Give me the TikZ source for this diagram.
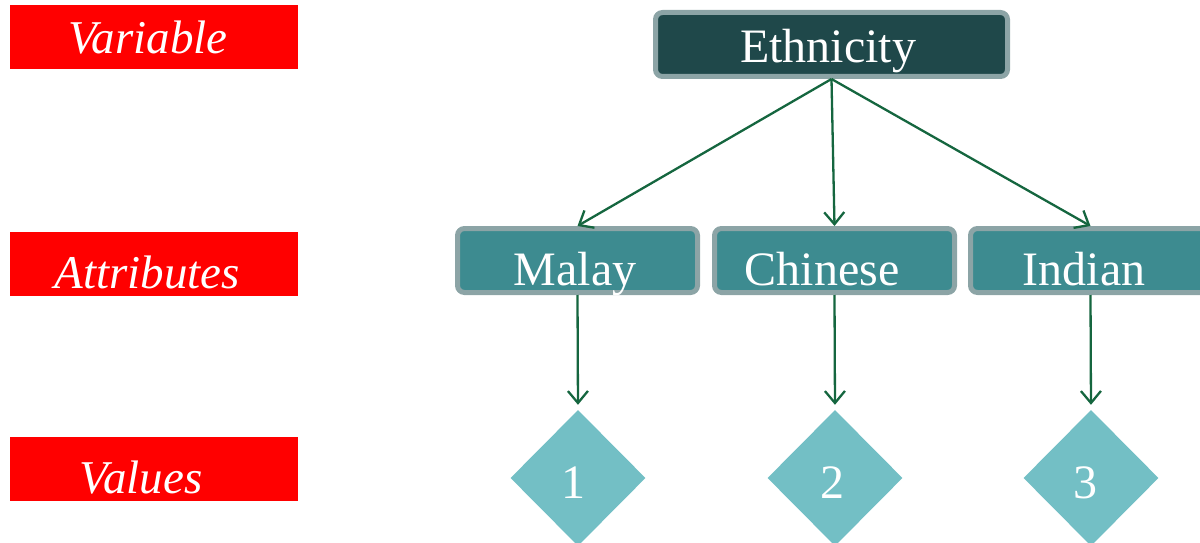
\documentclass[tikz,border=0pt]{standalone}
\usepackage{fontspec}
\setmainfont{Liberation Serif}
\usetikzlibrary{shapes.geometric,arrows.meta}

\definecolor{tagred}{HTML}{FF0000}
\definecolor{topfill}{HTML}{1F484A}
\definecolor{midfill}{HTML}{3D8B90}
\definecolor{valfill}{HTML}{73BFC5}
\definecolor{rimgray}{HTML}{8CA4A6}
\definecolor{linkgreen}{HTML}{15663F}

\tikzset{
  tagbox/.style={fill=tagred, draw=none, minimum width=288pt, minimum height=64pt, inner sep=0pt},
  tagtext/.style={text=white, font=\fontsize{47}{50}\selectfont\itshape, anchor=base, inner sep=0pt},
  headbox/.style={fill=topfill, draw=rimgray, line width=5pt, rounded corners=7pt,
    minimum width=352pt, minimum height=64pt, inner sep=0pt},
  catbox/.style={fill=midfill, draw=rimgray, line width=5pt, rounded corners=7pt,
    minimum width=240pt, minimum height=64pt, inner sep=0pt},
  boxtext/.style={text=white, font=\fontsize{48}{52}\selectfont, anchor=base, inner sep=0pt},
  valbox/.style={diamond, fill=valfill, draw=none, minimum width=135pt, minimum height=136pt, inner sep=0pt},
  link/.style={draw=linkgreen, line width=2.3pt, -{Straight Barb[length=12pt,width=20pt,line width=2.3pt]}},
}

\begin{document}
\begin{tikzpicture}[x=1pt,y=-1pt]
  \useasboundingbox (0,0) rectangle (1200,543);
  \clip (0,0) rectangle (1200,543);

  % level tags on the left
  \node[tagbox] (tagvar) at (154,37) {};
  \node[tagtext] (tagvartxt) at (148,54) {Variable};
  \node[tagbox] (tagatt) at (154,263.5) {};
  \node[tagtext] (tagatttxt) at (147,288) {Attributes};
  \node[tagbox] (tagval) at (154,469) {};
  \node[tagtext] (tagvaltxt) at (141,493) {Values};

  % variable
  \node[headbox] (eth) at (831.5,44.5) {};
  \node[boxtext] (ethtxt) at (828,63) {Ethnicity};

  % attributes
  \node[catbox] (malay) at (577.5,260.5) {};
  \node[boxtext] (malaytxt) at (575,285) {Malay};
  \node[catbox] (chinese) at (834.5,260.5) {};
  \node[boxtext] (chinesetxt) at (822,285) {Chinese};
  \node[catbox] (indian) at (1090.5,260.5) {};
  \node[boxtext] (indiantxt) at (1084,285) {Indian};

  % values
  \node[valbox] (v1) at (578,478) {};
  \node[boxtext] (v1txt) at (573,498) {1};
  \node[valbox] (v2) at (835,478) {};
  \node[boxtext] (v2txt) at (832,498) {2};
  \node[valbox] (v3) at (1091,478) {};
  \node[boxtext] (v3txt) at (1085,498) {3};

  % connectors
  \draw[link] (eth.south) -- (malay.north);
  \draw[link] (eth.south) -- (chinese.north);
  \draw[link] (eth.south) -- (indian.north);
  \draw[link, shorten >=5pt] (malay.south) -- (v1.north);
  \draw[link, shorten >=5pt] (chinese.south) -- (v2.north);
  \draw[link, shorten >=5pt] (indian.south) -- (v3.north);
\end{tikzpicture}
\end{document}
